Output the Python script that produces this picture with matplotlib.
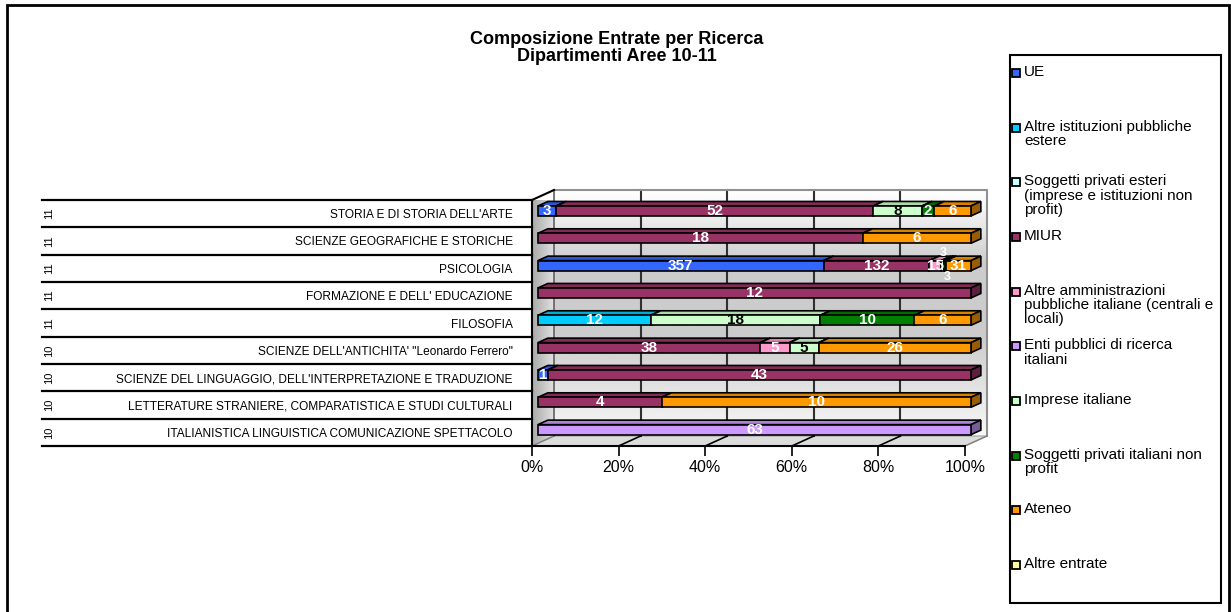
import numpy as np
import matplotlib.pyplot as plt
from matplotlib.patches import Polygon, Rectangle
from matplotlib.colors import to_rgb

plt.rcParams['font.family'] = ['Liberation Sans', 'DejaVu Sans']

departments = [
    "STORIA E DI STORIA DELL'ARTE",
    "SCIENZE GEOGRAFICHE E STORICHE",
    "PSICOLOGIA",
    "FORMAZIONE E DELL' EDUCAZIONE",
    "FILOSOFIA",
    "SCIENZE DELL'ANTICHITA' \"Leonardo Ferrero\"",
    "SCIENZE DEL LINGUAGGIO, DELL'INTERPRETAZIONE E TRADUZIONE",
    "LETTERATURE STRANIERE, COMPARATISTICA E STUDI CULTURALI",
    "ITALIANISTICA LINGUISTICA COMUNICAZIONE SPETTACOLO",
]
areas = ["11", "11", "11", "11", "11", "10", "10", "10", "10"]

sources = [
    "UE",
    "Altre istituzioni pubbliche\nestere",
    "Soggetti privati esteri\n(imprese e istituzioni non\nprofit)",
    "MIUR",
    "Altre amministrazioni\npubbliche italiane (centrali e\nlocali)",
    "Enti pubblici di ricerca\nitaliani",
    "Imprese italiane",
    "Soggetti privati italiani non\nprofit",
    "Ateneo",
    "Altre entrate",
]
colors = ["#3366FF", "#00CCFF", "#CCFFFF", "#993366", "#FF99CC",
          "#CC99FF", "#CCFFCC", "#008000", "#FF9900", "#FFFF99"]

# values for each source, one per department (top to bottom)
ue = [3, 0, 357, 0, 0, 0, 1, 0, 0]
altre_ist_estere = [0, 0, 0, 0, 12, 0, 0, 0, 0]
privati_esteri = [0, 0, 0, 0, 0, 0, 0, 0, 0]
miur = [52, 18, 132, 12, 0, 38, 43, 4, 0]
altre_amm = [0, 0, 15, 0, 0, 5, 0, 0, 0]
enti_ricerca = [0, 0, 0, 0, 0, 0, 0, 0, 63]
imprese = [8, 0, 3, 0, 18, 5, 0, 0, 0]
privati_it_np = [2, 0, 3, 0, 10, 0, 0, 0, 0]
ateneo = [6, 6, 31, 0, 6, 26, 0, 10, 0]
altre_entrate = [0, 0, 0, 0, 0, 0, 0, 0, 0]

values = np.array([ue, altre_ist_estere, privati_esteri, miur, altre_amm,
                   enti_ricerca, imprese, privati_it_np, ateneo, altre_entrate], float)
pct = values / values.sum(axis=0) * 100

W, H = 1231, 612
fig = plt.figure(figsize=(W / 100, H / 100), dpi=100)

# axes: 0% at x=532px, 100% at x=965px, rows between y=200px and y=446px
ax = fig.add_axes([532 / W, 1 - 446 / H, 433 / W, 246 / H])
ax.set_xlim(0, 100)
ax.set_ylim(8.5, -0.5)

px_x = 100 / 433          # data units per pixel (x)
px_y = 9 / 246            # data units per pixel (y)
wdx, wdy = 22 * px_x, -10 * px_y   # depth of the 3d box
top, bot = -0.5, 8.5

# back wall with gradient
ys = np.linspace(0, 1, 200)
shade = np.interp(ys, [0, 0.06, 0.3, 0.6, 1.0], [1.0, 0.97, 0.80, 0.80, 0.97])
ax.imshow(np.repeat(shade[:, None], 2, axis=1), cmap='gray', vmin=0, vmax=1,
          extent=[wdx, 100 + wdx, bot + wdy, top + wdy], aspect='auto',
          zorder=0, clip_on=False)
# left side wall
side = Polygon([(0, top), (wdx, top + wdy), (wdx, bot + wdy), (0, bot)],
               closed=True, facecolor='none', edgecolor='none')
ax.add_patch(side)
xs = np.linspace(0, 1, 50)
im = ax.imshow(np.repeat(np.interp(xs, [0, 1], [0.66, 0.88])[None, :], 2, axis=0),
               cmap='gray', vmin=0, vmax=1, extent=[0, wdx, bot, top + wdy],
               aspect='auto', zorder=0.5, clip_on=True)
im.set_clip_path(side)
# floor
floor = Polygon([(0, bot), (100, bot), (100 + wdx, bot + wdy), (wdx, bot + wdy)],
                closed=True, facecolor='#dcdcdc', edgecolor='#a0a0a0', lw=0.8,
                zorder=0.6, clip_on=False)
ax.add_patch(floor)

# wall gridlines and edges
for g in [20, 40, 60, 80]:
    ax.plot([g + wdx, g + wdx], [top + wdy, bot + wdy], color='#303030', lw=1.5,
            zorder=1, clip_on=False)
    ax.plot([g, g + wdx], [bot, bot + wdy], color='black', lw=1.2, zorder=1, clip_on=False)
ax.plot([wdx, wdx], [top + wdy, bot + wdy], color='#606060', lw=1.2, zorder=1, clip_on=False)
ax.plot([wdx, 100 + wdx, 100 + wdx], [top + wdy, top + wdy, bot + wdy], color='#909090',
        lw=1.5, zorder=1, clip_on=False)
ax.plot([0, wdx], [top, top + wdy], color='black', lw=1.5, zorder=1, clip_on=False)
ax.plot([0, wdx], [bot, bot + wdy], color='#808080', lw=1, zorder=1, clip_on=False)
ax.plot([100, 100 + wdx], [bot, bot + wdy], color='#808080', lw=1, zorder=1, clip_on=False)

# 3d stacked bars
f0, fd = 0.27, 0.45
bx0, by0 = f0 * wdx, f0 * wdy
bdx, bdy = fd * wdx, fd * wdy
bh = 10 * px_y


def shade_of(c, k):
    r, g, b = to_rgb(c)
    return (r * k, g * k, b * k)


# small label shifts where segments are too thin (psicologia)
nudge = {(2, 6): (0.2, -0.45), (2, 7): (0.6, 0.42)}

for i in range(len(departments)):
    left = 0.0
    yc = i + by0
    for s in range(len(sources)):
        w = pct[s, i]
        if w <= 0:
            continue
        x0 = left + bx0
        x1 = x0 + w
        y0, y1 = yc - bh / 2, yc + bh / 2
        topf = Polygon([(x0, y0), (x1, y0), (x1 + bdx, y0 + bdy), (x0 + bdx, y0 + bdy)],
                       closed=True, facecolor=shade_of(colors[s], 0.85), edgecolor='black',
                       lw=1.2, zorder=3, clip_on=False)
        sidef = Polygon([(x1, y0), (x1 + bdx, y0 + bdy), (x1 + bdx, y1 + bdy), (x1, y1)],
                        closed=True, facecolor=shade_of(colors[s], 0.6), edgecolor='black',
                        lw=1.2, zorder=3, clip_on=False)
        ax.add_patch(topf)
        ax.add_patch(sidef)
        ax.barh(yc, w, left=x0, height=bh, color=colors[s], edgecolor='black',
                lw=1.2, zorder=3, clip_on=False)
        nx, ny = nudge.get((i, s), (0, 0))
        light = colors[s] in ("#CCFFCC", "#CCFFFF", "#FFFF99")
        tc = 'black' if light and (i, s) not in nudge else 'white'
        fs = 9 if (i, s) in nudge else 11
        ax.text(x0 + w / 2 + nx, yc + ny, f"{int(values[s, i])}", ha='center', va='center',
                color=tc, fontsize=fs, fontweight='bold', zorder=4, clip_on=False)
        left += w

# axes styling
for sp in ['top', 'right']:
    ax.spines[sp].set_visible(False)
ax.spines['left'].set_linewidth(1.5)
ax.spines['bottom'].set_linewidth(1.5)
ax.spines['left'].set_zorder(2)
ax.spines['bottom'].set_zorder(2)
ax.set_xticks([0, 20, 40, 60, 80, 100])
ax.set_xticklabels(['0%', '20%', '40%', '60%', '80%', '100%'], fontsize=11.5)
ax.tick_params(axis='x', direction='out', length=7, width=1.2, pad=3)
ax.set_yticks(range(len(departments)))
ax.set_yticklabels(departments, fontsize=8.6)
ax.tick_params(axis='y', length=0, pad=14)

# label table lines and area codes
ytr = ax.get_yaxis_transform()
for k in range(len(departments) + 1):
    ax.plot([-1.132, 0], [k - 0.5, k - 0.5], color='black', lw=1.6, transform=ytr,
            clip_on=False, zorder=2)
for i, a in enumerate(areas):
    ax.text(-1.115, i, a, rotation=90, ha='center', va='center', fontsize=8,
            transform=ytr, clip_on=False)

# title
fig.text(617 / W, 1 - 31 / H, "Composizione Entrate per Ricerca\nDipartimenti Aree 10-11",
         ha='center', va='top', fontsize=13, fontweight='bold', linespacing=1.0)

# legend box drawn by hand
fig.patches.append(Rectangle((1010 / W, 1 - 603 / H), 211 / W, 548 / H,
                             transform=fig.transFigure, facecolor='white',
                             edgecolor='black', lw=1.5))
for s, lab in enumerate(sources):
    yc = 73 + 54.67 * s
    fig.patches.append(Rectangle((1012 / W, 1 - (yc + 4) / H), 8 / W, 8 / H,
                                 transform=fig.transFigure, facecolor=colors[s],
                                 edgecolor='black', lw=1.3))
    fig.text(1024 / W, 1 - (yc - 8) / H, lab, ha='left', va='top', fontsize=11,
             linespacing=1.02)

# outer frame
fig.patches.append(Rectangle((7 / W, -0.02), 1222 / W, 1.02 - 5 / H,
                             transform=fig.transFigure, facecolor='none',
                             edgecolor='black', lw=2))

fig.savefig('out.png', dpi=100)
